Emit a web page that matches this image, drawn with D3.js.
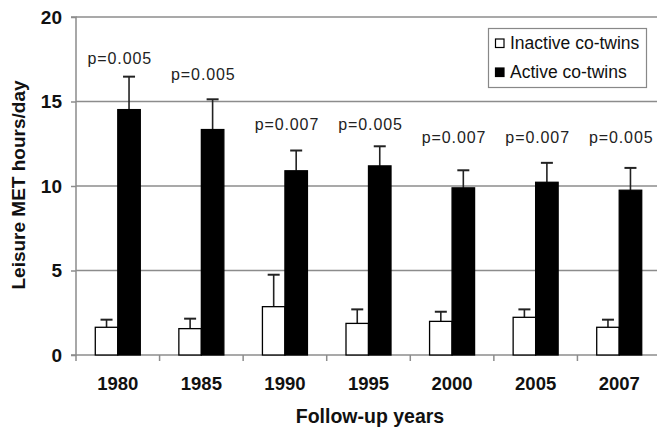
<!DOCTYPE html>
<html>
<head>
<meta charset="utf-8">
<script src="https://cdn.jsdelivr.net/npm/d3@7"></script>
<style>
  html, body { margin: 0; padding: 0; background: #fff; }
  svg { display: block; font-family: "Liberation Sans", Arial, sans-serif; }
</style>
</head>
<body>
<svg id="chart" width="657" height="428"></svg>
<script>
// ---- data ----
const years = ["1980", "1985", "1990", "1995", "2000", "2005", "2007"];
const seriesNames = ["Inactive co-twins", "Active co-twins"];
const inactive = [1.64, 1.56, 2.86, 1.87, 1.99, 2.23, 1.64];
const inactiveErr = [0.45, 0.59, 1.89, 0.83, 0.57, 0.47, 0.45];
const active = [14.52, 13.34, 10.90, 11.19, 9.89, 10.22, 9.75];
const activeErr = [1.95, 1.79, 1.20, 1.16, 1.04, 1.15, 1.32];
const pLabels = ["p=0.005", "p=0.005", "p=0.007", "p=0.005", "p=0.007", "p=0.007", "p=0.005"];
const pLabelAt = [17.2, 16.3, 13.3, 13.3, 12.55, 12.55, 12.55];
const yTicks = [0, 5, 10, 15, 20];

// ---- layout ----
const svg = d3.select("#chart");
const mLeft = 76, mRight = 661, mTop = 17, mBottom = 355;
const y = d3.scaleLinear().domain([0, 20]).range([mBottom, mTop]);
const x = d3.scaleBand().domain(years).range([mLeft, mRight]).paddingInner(0).paddingOuter(0);
const barW = 22.5;
const inner = d3.scaleBand().domain(seriesNames)
  .range([-barW, barW]).padding(0);
const gridColor = "#8c8c8c";

// gridlines
svg.append("g").selectAll("line").data(yTicks.filter(d => d > 0)).join("line")
  .attr("x1", mLeft).attr("x2", mRight)
  .attr("y1", d => y(d)).attr("y2", d => y(d))
  .attr("stroke", gridColor).attr("stroke-width", 1.5);

// y axis
const yAxis = svg.append("g").attr("transform", `translate(${mLeft},0)`)
  .call(d3.axisLeft(y).tickValues(yTicks).tickSize(5).tickPadding(9).tickFormat(d3.format("d")));
yAxis.select(".domain").attr("stroke", gridColor).attr("stroke-width", 1.5).attr("d", `M-5,${mTop}H0V${mBottom}H-5`);
yAxis.selectAll(".tick line").attr("stroke", gridColor).attr("stroke-width", 1.5);
yAxis.selectAll(".tick text").attr("font-size", 19).attr("font-weight", "bold").attr("fill", "#111")
  .attr("font-family", "Liberation Sans, Arial, sans-serif");

// x axis
const xAxis = svg.append("g").attr("transform", `translate(0,${mBottom})`)
  .call(d3.axisBottom(x).tickSize(0).tickPadding(22));
xAxis.select(".domain").attr("stroke", gridColor).attr("stroke-width", 1.5).attr("d", `M${mLeft},0H${mRight}`);
xAxis.selectAll(".tick text").attr("font-size", 18.5).attr("font-weight", "bold").attr("fill", "#111")
  .attr("font-family", "Liberation Sans, Arial, sans-serif");
// category separator ticks
xAxis.append("g").selectAll("line").data(years.concat(["end"])).join("line")
  .attr("x1", d => d === "end" ? mRight : x(d)).attr("x2", d => d === "end" ? mRight : x(d))
  .attr("y1", 0).attr("y2", 6)
  .attr("stroke", gridColor).attr("stroke-width", 1.5);

// bars
const groups = svg.append("g").selectAll("g").data(years).join("g")
  .attr("transform", d => `translate(${x(d) + x.bandwidth() / 2},0)`);

const series = [
  { name: seriesNames[0], vals: inactive, errs: inactiveErr, fill: "#fff" },
  { name: seriesNames[1], vals: active, errs: activeErr, fill: "#000" }
];

series.forEach(s => {
  // error bars (upper only)
  groups.append("line")
    .attr("x1", (d, i) => inner(s.name) + inner.bandwidth() / 2)
    .attr("x2", (d, i) => inner(s.name) + inner.bandwidth() / 2)
    .attr("y1", (d, i) => y(s.vals[i]))
    .attr("y2", (d, i) => y(s.vals[i] + s.errs[i]))
    .attr("stroke", "#222").attr("stroke-width", 1.6);
  groups.append("line")
    .attr("x1", (d, i) => inner(s.name) + inner.bandwidth() / 2 - 6)
    .attr("x2", (d, i) => inner(s.name) + inner.bandwidth() / 2 + 6)
    .attr("y1", (d, i) => y(s.vals[i] + s.errs[i]))
    .attr("y2", (d, i) => y(s.vals[i] + s.errs[i]))
    .attr("stroke", "#222").attr("stroke-width", 2);
  groups.append("rect")
    .attr("x", inner(s.name))
    .attr("width", inner.bandwidth())
    .attr("y", (d, i) => y(s.vals[i]))
    .attr("height", (d, i) => y(0) - y(s.vals[i]))
    .attr("fill", s.fill).attr("stroke", "#000").attr("stroke-width", 1.3);
});

// p-value labels
groups.append("text")
  .attr("x", 2).attr("y", (d, i) => y(pLabelAt[i]))
  .attr("text-anchor", "middle")
  .attr("font-size", 16).attr("letter-spacing", 0.9).attr("fill", "#222")
  .text((d, i) => pLabels[i]);

// legend
const legend = svg.append("g").attr("transform", "translate(488.5,28.5)");
legend.append("rect").attr("width", 158).attr("height", 59)
  .attr("fill", "#fff").attr("stroke", "#888").attr("stroke-width", 1.2);
const legendItems = legend.selectAll("g.item").data(series).join("g")
  .attr("class", "item")
  .attr("transform", (d, i) => `translate(0,${14 + i * 29})`);
legendItems.append("rect").attr("x", 7).attr("y", -3.5).attr("width", 8.5).attr("height", 8.5)
  .attr("fill", d => d.fill).attr("stroke", "#000").attr("stroke-width", 1.2);
legendItems.append("text").attr("x", 21.5).attr("y", 6)
  .attr("font-size", 17.5).attr("fill", "#111").text(d => d.name);

// axis titles
svg.append("text").attr("transform", "translate(25,185) rotate(-90)")
  .attr("text-anchor", "middle").attr("font-size", 19).attr("font-weight", "bold").attr("fill", "#111")
  .text("Leisure MET hours/day");
svg.append("text").attr("x", 370).attr("y", 423)
  .attr("text-anchor", "middle").attr("font-size", 19.5).attr("font-weight", "bold").attr("fill", "#111")
  .text("Follow-up years");
</script>
</body>
</html>
